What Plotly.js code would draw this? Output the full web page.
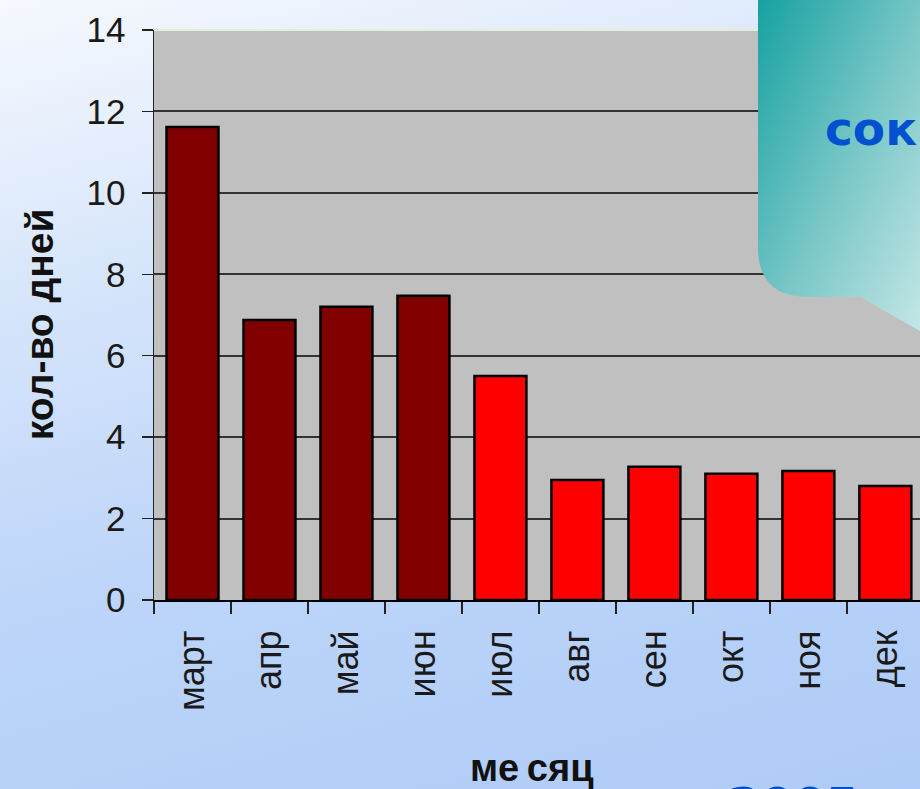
<!DOCTYPE html>
<html>
<head>
<meta charset="utf-8">
<script src="https://cdn.plot.ly/plotly-3.0.1.min.js"></script>
<style>
  html, body { margin: 0; padding: 0; width: 920px; height: 789px; overflow: hidden; }
  body { background: linear-gradient(165deg, #f6f9fe 0%, #d6e5fb 30%, #bdd5f9 60%, #aecbf7 100%); position: relative; }
  #chart { position: absolute; left: 0; top: 0; width: 920px; height: 789px; }
  #overlay { position: absolute; left: 0; top: 0; pointer-events: none; }
</style>
</head>
<body>
<div id="chart"></div>
<svg id="overlay" width="920" height="789" xmlns="http://www.w3.org/2000/svg">
  <defs>
    <linearGradient id="teal" x1="0" y1="0" x2="1" y2="1">
      <stop offset="0" stop-color="#14a0a0"/>
      <stop offset="0.55" stop-color="#7cc8c8"/>
      <stop offset="1" stop-color="#c4e6e6"/>
    </linearGradient>
  </defs>
  <path d="M758,-10 L920,-10 L920,331 L860,297 L808,297 Q758,297 758,247 Z" fill="url(#teal)"/>
  <text x="825" y="145" font-family="DejaVu Sans" font-weight="bold" font-size="47" fill="#0050d0">сок</text>
  <text x="728" y="821" font-family="DejaVu Sans" font-weight="bold" font-size="47" fill="#0050d0">2005</text>
</svg>
<script>
const months = ["март", "апр", "май", "июн", "июл", "авг", "сен", "окт", "ноя", "дек"];
const days = [11.62, 6.88, 7.2, 7.47, 5.5, 2.95, 3.27, 3.1, 3.17, 2.8];
const barColors = ["#800000", "#800000", "#800000", "#800000", "#ff0000", "#ff0000", "#ff0000", "#ff0000", "#ff0000", "#ff0000"];
const yTicks = [0, 2, 4, 6, 8, 10, 12, 14];

const trace = {
  type: "bar",
  x: months,
  y: days,
  marker: { color: barColors, line: { color: "#000000", width: 2.5 } },
  hoverinfo: "x+y"
};

const layout = {
  width: 920,
  height: 789,
  margin: { l: 154, r: 0, t: 30, b: 189 },
  paper_bgcolor: "rgba(0,0,0,0)",
  plot_bgcolor: "#c0c0c0",
  bargap: 0.325,
  showlegend: false,
  font: { family: "Liberation Sans, Arial, sans-serif", color: "#1a1a1a" },
  xaxis: {
    type: "category",
    range: [-0.5, 9.45],
    tickangle: -90,
    tickfont: { size: 36, color: "#1a1a1a" },
    ticks: "outside",
    tickson: "boundaries",
    ticklen: 12,
    tickwidth: 1.5,
    tickcolor: "#222",
    ticklabelstandoff: 14,
    showline: true,
    linecolor: "#000",
    linewidth: 2,
    showgrid: false,
    automargin: false
  },
  yaxis: {
    range: [0, 14],
    tickvals: yTicks,
    ticktext: yTicks.map(String),
    tickfont: { size: 35, color: "#1a1a1a" },
    ticks: "outside",
    ticklen: 11,
    tickwidth: 1.5,
    tickcolor: "#222",
    ticklabelstandoff: 9,
    showline: true,
    linecolor: "#222",
    linewidth: 1.5,
    showgrid: true,
    gridcolor: "#333333",
    gridwidth: 2,
    zeroline: false,
    automargin: false
  },
  shapes: [
    { type: "line", xref: "paper", yref: "paper", x0: 0, x1: 1, y0: 1, y1: 1,
      line: { color: "#e6efdc", width: 2 } }
  ],
  annotations: [
    {
      text: "<b>кол-во дней</b>",
      xref: "paper", yref: "paper",
      x: -0.150, y: 0.484,
      xanchor: "center", yanchor: "middle",
      textangle: -90, showarrow: false,
      font: { size: 39, color: "#111", family: "Liberation Sans, Arial, sans-serif" }
    },
    {
      text: "<b>ме\u2009сяц</b>",
      xref: "paper", yref: "paper",
      x: 0.494, y: -0.295,
      xanchor: "center", yanchor: "middle",
      showarrow: false,
      font: { size: 38, color: "#111", family: "Liberation Sans, Arial, sans-serif" }
    }
  ]
};

Plotly.newPlot("chart", [trace], layout, { displayModeBar: false, staticPlot: true });
</script>
</body>
</html>
